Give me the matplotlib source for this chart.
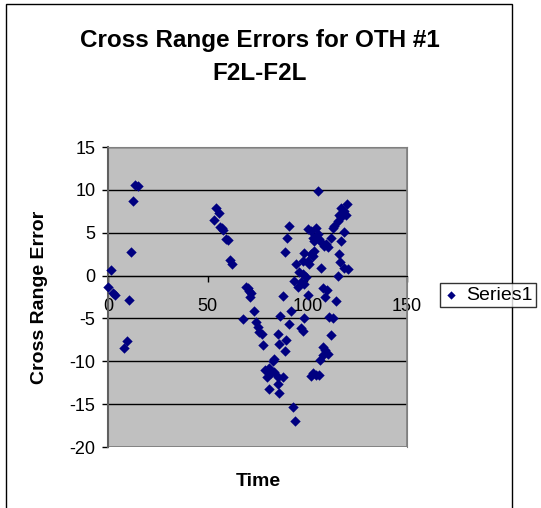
import matplotlib.pyplot as plt
from matplotlib.patches import Rectangle

# Time / cross range error pairs
time = [
    0.2, 1.5, 2.5, 3.5, 10.5, 8, 9.5, 11.3, 12.3, 13.7, 15,
    53, 54.3, 55.7, 56, 57, 57.5, 59, 60, 61, 62,
    69, 70, 70.5, 71.8, 71, 67.7, 73.2, 74, 75.2, 76, 77.2, 78,
    83.5, 82.7, 79, 81, 81.8, 83.5, 79.8, 85.2, 87.7, 85.2, 81, 85.7,
    93, 93.8, 85.2, 85.7, 89.3, 89, 86.5, 91, 91.8, 87.7,
    93.5, 95.2, 96.8, 99.3, 97.7, 96, 94.3, 100.7, 98.5, 100.2, 98.5, 96.8, 98,
    105.2, 91, 89.7, 88.8, 100.2, 101.8, 104.3, 105.2, 102.7, 106, 103.5,
    106.8, 109.3, 110.2, 108.5, 111.8, 98.5, 101.8, 103.5, 102.7, 100.2, 97.7, 106.8,
    112.7, 113.5, 115.2, 116.8, 116, 119.3, 118.5, 116.8, 119.7, 118.5, 116.8,
    115.7, 116.3, 118.5, 120.2, 115.2,
    107.7, 109.7, 109, 114.3, 111, 112.7, 111.8, 107.7, 109, 110.2, 108, 106.3,
    102.7, 104.3, 101.8, 106,
]
error = [
    -1.35, 0.6, -2.0, -2.3, -2.8, -8.5, -7.6, 2.7, 8.7, 10.6, 10.4,
    6.5, 7.9, 7.3, 5.7, 5.5, 5.3, 4.3, 4.1, 1.8, 1.3,
    -1.3, -1.5, -1.8, -2.0, -2.5, -5.1, -4.1, -5.4, -6.0, -6.6, -6.8, -8.1,
    -9.7, -10.0, -11.0, -10.8, -11.4, -11.2, -11.8, -11.8, -11.8, -12.6, -13.2, -13.7,
    -15.3, -17.0, -6.8, -8.0, -7.5, -8.8, -4.7, -5.6, -4.1, -2.4,
    -0.6, -1.3, -0.8, -0.2, 0.2, 0.4, 1.4, 1.35, -1.0, -2.3, -5.0, -6.1, -6.45,
    9.9, 5.8, 4.4, 2.8, 5.4, 5.2, 5.6, 4.8, 4.4, 4.25, 4.05,
    3.9, 3.7, 3.3, 3.5, 4.4, 2.6, 2.5, 2.9, 2.3, 1.7, 1.7, 0.9,
    5.6, 5.8, 6.4, 6.8, 7.1, 7.1, 7.5, 7.9, 8.4, 5.1, 4.05,
    2.5, 1.55, 0.9, 0.8, 0.0,
    -1.5, -1.7, -2.5, -3.0, -4.8, -5.0, -6.9, -8.3, -8.7, -9.15, -9.3, -9.8,
    -11.4, -11.6, -11.7, -11.6,
]

plt.rcParams['font.family'] = ['Liberation Sans', 'DejaVu Sans']
plt.rcParams['axes.unicode_minus'] = False

fig = plt.figure(figsize=(5.41, 5.08), dpi=100)
fig.patches.append(Rectangle((6 / 541, -0.01), (512 - 6) / 541, 1 - 4 / 508 + 0.01,
                             transform=fig.transFigure, fill=False,
                             edgecolor='black', linewidth=1))

ax = fig.add_axes([108 / 541, 1 - 447 / 508, 299 / 541, 300 / 508])
ax.set_facecolor('#C0C0C0')
ax.grid(axis='y', color='black', linewidth=1, zorder=0)
ax.set_axisbelow(True)

ax.scatter(time, error, marker='D', s=28, color='#000080', linewidths=0,
           zorder=3, label='Series1', clip_on=False)

ax.set_xlim(0, 150)
ax.set_ylim(-20, 15)
ax.set_xticks([0, 50, 100, 150])
ax.set_yticks(range(-20, 16, 5))
ax.tick_params(axis='both', labelsize=13, color='black', length=4, width=1)
ax.tick_params(axis='x', pad=12)
ax.tick_params(axis='y', pad=5)

ax.spines['bottom'].set_position(('data', 0))
ax.spines['bottom'].set_color('black')
ax.spines['left'].set_color('#606060')
ax.spines['left'].set_linewidth(1.5)
for s in ['top', 'right']:
    ax.spines[s].set_color('#808080')
ax.add_patch(Rectangle((0, 0), 1, 1, transform=ax.transAxes, fill=False,
                       edgecolor='#808080', linewidth=1.2, zorder=1))

fig.text(260 / 541, 1 - 41 / 508, 'Cross Range Errors for OTH #1',
         ha='center', va='center', fontsize=17.5, fontweight='bold')
fig.text(260 / 541, 1 - 73 / 508, 'F2L-F2L',
         ha='center', va='center', fontsize=17.5, fontweight='bold')
fig.text(40 / 541, 1 - 297 / 508, 'Cross Range Error', rotation=90,
         ha='center', va='center', fontsize=14, fontweight='bold')
fig.text(258 / 541, 1 - 481 / 508, 'Time',
         ha='center', va='center', fontsize=14, fontweight='bold')

leg = fig.legend(loc='center left', bbox_to_anchor=(440 / 541, 1 - 295 / 508),
                 fontsize=14, frameon=True, fancybox=False, edgecolor='black',
                 handletextpad=0.4, borderpad=0.15, handlelength=0.8,
                 borderaxespad=0, markerscale=0.8)
leg.get_frame().set_linewidth(1)

plt.savefig('out.png', dpi=100)
